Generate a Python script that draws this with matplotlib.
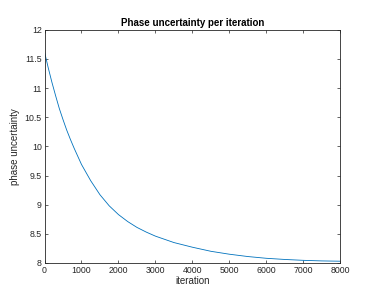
import matplotlib
matplotlib.use("Agg")
import matplotlib.pyplot as plt
from matplotlib.ticker import FormatStrFormatter, MultipleLocator

# values
iteration = [0, 100, 200, 300, 400, 500, 600, 700, 800, 900, 1000,
             1250, 1500, 1750, 2000, 2250, 2500, 2750, 3000,
             3500, 4000, 4500, 5000, 5500, 6000, 6500, 7000, 7500, 8000]
uncertainty = [11.62, 11.35, 11.10, 10.87, 10.65, 10.46, 10.28, 10.12, 9.97, 9.83, 9.69,
               9.41, 9.17, 8.98, 8.83, 8.71, 8.61, 8.53, 8.46,
               8.35, 8.27, 8.20, 8.15, 8.11, 8.08, 8.06, 8.045, 8.035, 8.03]

plt.rcParams["font.family"] = ["Liberation Sans", "DejaVu Sans"]
AX = "#262626"

fig = plt.figure(figsize=(3.74, 3.04), dpi=100)
ax = fig.add_axes([0.119, 0.135, 0.791, 0.767])
ax.plot(iteration, uncertainty, color="#0072BD", lw=0.6)

ax.set_xlim(0, 8000)
ax.set_ylim(8, 12)
ax.xaxis.set_major_locator(MultipleLocator(1000))
ax.yaxis.set_major_locator(MultipleLocator(0.5))
ax.yaxis.set_major_formatter(FormatStrFormatter("%g"))
ax.tick_params(direction="in", length=2.5, width=0.5, colors=AX,
               labelsize=6.3, top=True, right=True, pad=2)
for s in ax.spines.values():
    s.set_linewidth(0.6)
    s.set_color(AX)

ax.set_title("Phase uncertainty per iteration", fontsize=7, fontweight="bold",
             color="#000000", pad=3)
ax.set_xlabel("iteration", fontsize=7, color=AX, labelpad=1)
ax.set_ylabel("phase uncertainty", fontsize=7, color=AX, labelpad=3)

fig.savefig("out.png", dpi=100)
